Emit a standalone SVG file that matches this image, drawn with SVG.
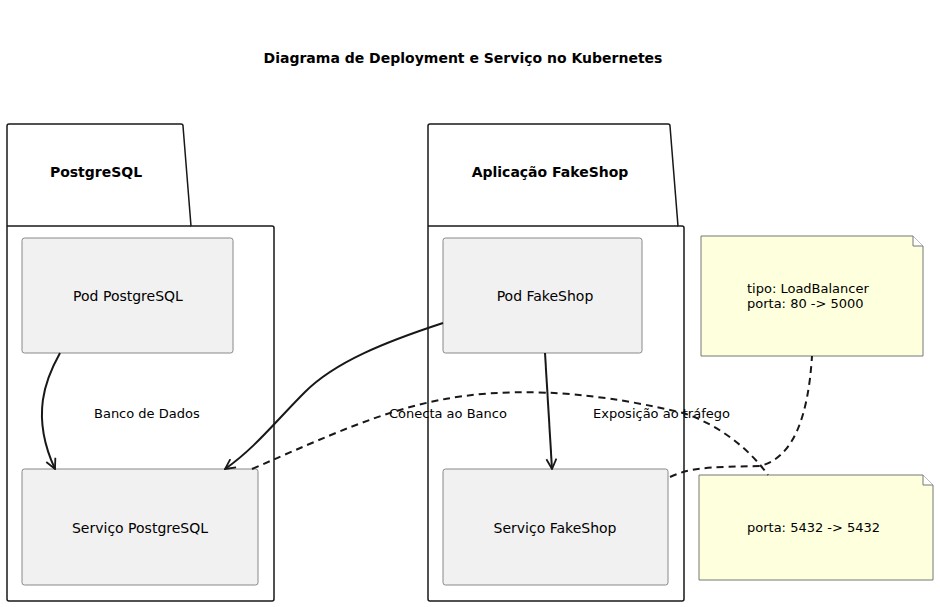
<svg xmlns="http://www.w3.org/2000/svg" width="940" height="607" viewBox="0 0 940 607">
<defs>
<style>
text{font-family:"DejaVu Sans","Liberation Sans",sans-serif;font-size:13px;fill:#000}
.b{font-weight:bold;font-size:14px}
.lbl{font-size:14px}
.pkg{fill:#fff;stroke:#181818;stroke-width:1.5}
.node{fill:#F1F1F1;stroke:#888;stroke-width:1}
.note{fill:#FEFFDD;stroke:#777;stroke-width:1}
.fold{fill:#fff;stroke:#777;stroke-width:1}
.edge{fill:none;stroke:#181818;stroke-width:2}
.dash{fill:none;stroke:#181818;stroke-width:2;stroke-dasharray:7,5}
</style>
<marker id="arr" viewBox="0 0 12 12" refX="11" refY="6" markerWidth="12" markerHeight="12" markerUnits="userSpaceOnUse" orient="auto">
<path d="M1,1 L11,6 L1,11" fill="none" stroke="#181818" stroke-width="1.8"/>
</marker>
</defs>
<rect width="940" height="607" fill="#fff"/>
<text class="b" x="463" y="63" text-anchor="middle">Diagrama de Deployment e Serviço no Kubernetes</text>

<g id="pkg-postgres">
<path class="pkg" d="M9,124 L181,124 Q183,124 183,126 L191,226 L272,226 Q274,226 274,228 L274,599 Q274,601 272,601 L9,601 Q7,601 7,599 L7,126 Q7,124 9,124 Z"/>
<line class="pkg" x1="7" y1="226" x2="191" y2="226"/>
<text class="b" x="96" y="177" text-anchor="middle">PostgreSQL</text>
</g>
<g id="pkg-fakeshop">
<path class="pkg" d="M430,124 L668,124 Q670,124 670,126 L678,226 L682,226 Q684,226 684,228 L684,599 Q684,601 682,601 L430,601 Q428,601 428,599 L428,126 Q428,124 430,124 Z"/>
<line class="pkg" x1="428" y1="226" x2="678" y2="226"/>
<text class="b" x="550" y="177" text-anchor="middle">Aplicação FakeShop</text>
</g>

<g id="pod-postgres">
<rect class="node" x="22" y="238" width="211" height="115" rx="2.5"/>
<text class="lbl" x="128" y="301" text-anchor="middle">Pod PostgreSQL</text>
</g>
<g id="svc-postgres">
<rect class="node" x="22" y="469" width="236" height="116" rx="2.5"/>
<text class="lbl" x="140" y="533" text-anchor="middle">Serviço PostgreSQL</text>
</g>
<g id="pod-fakeshop">
<rect class="node" x="443" y="238" width="199" height="115" rx="2.5"/>
<text class="lbl" x="545" y="301" text-anchor="middle">Pod FakeShop</text>
</g>
<g id="svc-fakeshop">
<rect class="node" x="443" y="469" width="225" height="116" rx="2.5"/>
<text class="lbl" x="555" y="533" text-anchor="middle">Serviço FakeShop</text>
</g>

<g id="note-lb">
<path class="note" d="M701,236 L913,236 L923,246 L923,356 L701,356 Z"/>
<path class="fold" d="M913,236 L913,246 L923,246"/>
<text x="747" y="293">tipo: LoadBalancer</text>
<text x="747" y="308">porta: 80 -&gt; 5000</text>
</g>
<g id="note-pg">
<path class="note" d="M699,475 L923,475 L933,485 L933,580 L699,580 Z"/>
<path class="fold" d="M923,475 L923,485 L933,485"/>
<text x="747" y="532">porta: 5432 -&gt; 5432</text>
</g>

<g id="connectors">
<path class="edge" marker-end="url(#arr)" d="M60,353 C46,378 30,415 55,469"/>
<text x="94" y="418">Banco de Dados</text>
<path class="edge" marker-end="url(#arr)" d="M443,323 C385,342 335,362 305,392 C275,422 255,448 225,469"/>
<text x="389" y="418">Conecta ao Banco</text>
<path class="edge" marker-end="url(#arr)" d="M545,353 L552,469"/>
<text x="593" y="418">Exposição ao tráfego</text>
<path class="dash" d="M252,469 C330,435 380,412 440,400 C500,388 580,388 683,413 C720,425 750,450 768,475"/>
<path class="dash" d="M670,477 C690,468 705,467 760,466 C792,458 808,420 812,356"/>
</g>
</svg>
